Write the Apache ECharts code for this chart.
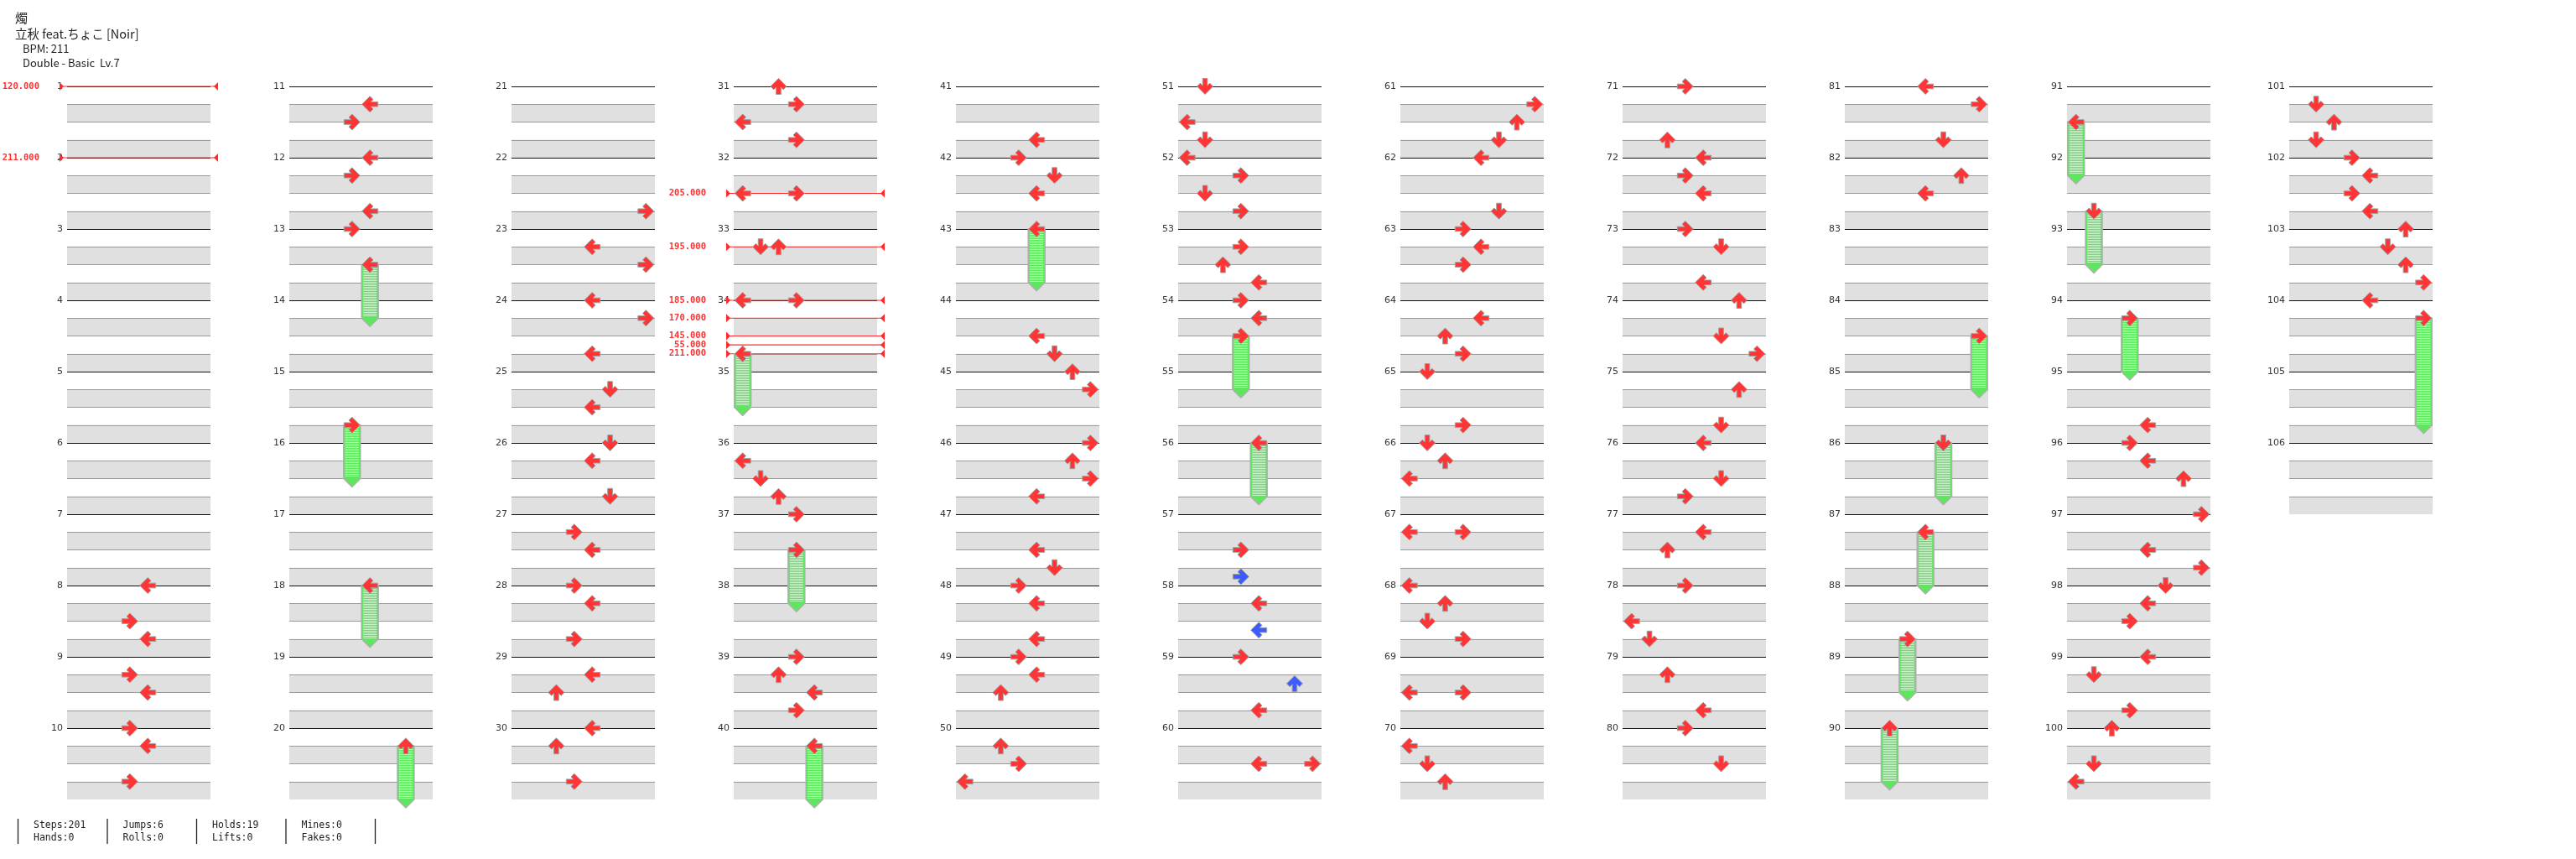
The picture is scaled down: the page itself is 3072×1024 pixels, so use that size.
<!DOCTYPE html>
<html>
<head>
<meta charset="utf-8">
<script src="https://cdn.jsdelivr.net/npm/echarts@6.0.0/dist/echarts.min.js"></script>
<style>
  html, body { margin: 0; padding: 0; background: #fff; }
  #chart { width: 3072px; height: 1024px; }
</style>
</head>
<body>
<div id="chart"></div>
<script>
// ---- data ----
// tap notes: [measure, beat in measure, lane]  lanes 0-7 = L D U R L D U R
const taps = [
  [8,0,4],[8,2,3],[8,3,4],[9,1,3],[9,2,4],[10,0,3],[10,1,4],[10,3,3],
  [11,1,4],[11,2,3],[12,0,4],[12,1,3],[12,3,4],[13,0,3],
  [22,3,7],[23,1,4],[23,2,7],[24,0,4],[24,1,7],[24,3,4],[25,1,5],[25,2,4],[26,0,5],[26,1,4],[26,3,5],
  [27,1,3],[27,2,4],[28,0,3],[28,1,4],[28,3,3],[29,1,4],[29,2,2],[30,0,4],[30,1,2],[30,3,3],
  [31,0,2],[31,1,3],[31,2,0],[31,3,3],[32,2,0],[32,2,3],[33,1,1],[33,1,2],[34,0,0],[34,0,3],
  [36,1,0],[36,2,1],[36,3,2],[37,0,3],[39,0,3],[39,1,2],[39,2,4],[39,3,3],
  [41,3,4],[42,0,3],[42,1,5],[42,2,4],[44,2,4],[44,3,5],[45,0,6],[45,1,7],[46,0,7],[46,1,6],[46,2,7],[46,3,4],
  [47,2,4],[47,3,5],[48,0,3],[48,1,4],[48,3,4],[49,0,3],[49,1,4],[49,2,2],[50,1,2],[50,2,3],[50,3,0],
  [51,0,1],[51,2,0],[51,3,1],[52,0,0],[52,1,3],[52,2,1],[52,3,3],[53,1,3],[53,2,2],[53,3,4],[54,0,3],[54,1,4],
  [57,2,3],[57,3.5,3],[58,1,4],[58,2.5,4],[59,0,3],[59,1.5,6],[59,3,4],[60,2,4],[60,2,7],
  [61,1,7],[61,2,6],[61,3,5],[62,0,4],[62,3,5],[63,0,3],[63,1,4],[63,2,3],[64,1,4],[64,2,2],[64,3,3],
  [65,0,1],[65,3,3],[66,0,1],[66,1,2],[66,2,0],[67,1,0],[67,1,3],[68,0,0],[68,1,2],[68,2,1],[68,3,3],
  [69,2,0],[69,2,3],[70,1,0],[70,2,1],[70,3,2],
  [71,0,3],[71,3,2],[72,0,4],[72,1,3],[72,2,4],[73,0,3],[73,1,5],[73,3,4],[74,0,6],[74,2,5],[74,3,7],
  [75,1,6],[75,3,5],[76,0,4],[76,2,5],[76,3,3],[77,1,4],[77,2,2],[78,0,3],[78,2,0],[78,3,1],
  [79,1,2],[79,3,4],[80,0,3],[80,2,5],
  [81,0,4],[81,1,7],[81,3,5],[82,1,6],[82,2,4],
  [95,3,4],[96,0,3],[96,1,4],[96,2,6],[97,0,7],[97,2,4],[97,3,7],[98,0,5],[98,1,4],[98,2,3],
  [99,0,4],[99,1,1],[99,3,3],[100,0,2],[100,2,1],[100,3,0],
  [101,1,1],[101,2,2],[101,3,1],[102,0,3],[102,1,4],[102,2,3],[102,3,4],
  [103,0,6],[103,1,5],[103,2,6],[103,3,7],[104,0,4]
];
// freeze arrows: [measure, beat, lane, length in beats]
const holds = [
  [13,2,4,3],[15,3,3,3],[18,0,4,3],[20,1,6,3],
  [34,3,0,3],[37,2,3,3],[40,1,4,3],[43,0,4,3],
  [54,2,3,3],[56,0,4,3],
  [84,2,7,3],[86,0,5,3],[87,1,4,3],[88,3,3,3],[90,0,2,3],
  [91,2,0,3],[92,3,1,3],[94,1,3,3],[104,1,7,6]
];
// bpm changes: [measure, beat, bpm]
const bpmChanges = [
  [1,0,120],[2,0,211],[32,2,205],[33,1,195],[34,0,185],[34,1,170],[34,2,145],[34,2.5,55],[34,3,211]
];
const measureCount = 106;
const headerLines = ['燭', '立秋 feat.ちょこ [Noir]', 'BPM: 211', 'Double - Basic  Lv.7'];
const statsTop = ['Steps:201', 'Jumps:6', 'Holds:19', 'Mines:0'];
const statsBottom = ['Hands:0', 'Rolls:0', 'Lifts:0', 'Fakes:0'];

// ---- layout ----
const perColumn = 10;
const colCount = Math.ceil(measureCount / perColumn);
const colLeft = 80, colStep = 265, colWidth = 171, colTop = 103, measureH = 85;

const colOf = m => Math.floor((m - 1) / perColumn);
const rowBeat = (m, b) => ((m - 1) % perColumn) * 4 + b;

// arrow pointing up, rotated per lane direction (L D U R)
const ARROW = [[0,-10],[10,0],[6,4],[3,1],[3,10],[-3,10],[-3,1],[-6,4],[-10,0]];
const ROT = [p => [p[1], -p[0]], p => [-p[0], -p[1]], p => p, p => [-p[1], p[0]]];

function renderTap(params, api) {
    const lane = api.value(0);
    const c = api.coord([lane + 0.5, api.value(1)]);
    const offBeat = api.value(2) > 0;
    const pts = ARROW.map(p => {
        const r = ROT[lane % 4](p);
        return [c[0] + r[0] * 0.95, c[1] + r[1] * 0.95];
    });
    return {
        type: 'polygon',
        shape: { points: pts },
        style: { fill: offBeat ? '#3d5cff' : '#ff3535', stroke: '#a0a0a0', lineWidth: 1 }
    };
}

function renderHold(params, api) {
    const lane = api.value(0);
    const p0 = api.coord([lane + 0.5, api.value(1)]);
    const p1 = api.coord([lane + 0.5, api.value(1) + api.value(2)]);
    const cx = p0[0], h = 10;
    const children = [{
        type: 'polygon',
        shape: { points: [[cx - h, p0[1]], [cx + h, p0[1]], [cx + h, p1[1]], [cx, p1[1] + 10], [cx - h, p1[1]]] },
        style: { fill: '#5ee65e', stroke: '#b0b0b0', lineWidth: 1.5 }
    }];
    // light stripes across the freeze body
    for (let y = Math.round(p0[1]) + 2.5; y < p1[1] - 1; y += 2) {
        children.push({
            type: 'line',
            shape: { x1: cx - h + 2, y1: y, x2: cx + h - 2, y2: y },
            style: { stroke: '#c2f9c2', lineWidth: 1 }
        });
    }
    return { type: 'group', children: children };
}

function renderBpm(params, api) {
    const a = api.coord([0, api.value(1)]);
    const b = api.coord([8, api.value(1)]);
    const y = a[1];
    return {
        type: 'group',
        children: [
            { type: 'line', shape: { x1: a[0] - 9, y1: y, x2: b[0] + 9, y2: y }, style: { stroke: '#ff2a2a', lineWidth: 1.2 } },
            { type: 'polygon', shape: { points: [[a[0] - 9, y - 5], [a[0] - 9, y + 5], [a[0] - 4, y]] }, style: { fill: '#ff2a2a' } },
            { type: 'polygon', shape: { points: [[b[0] + 9, y - 5], [b[0] + 9, y + 5], [b[0] + 4, y]] }, style: { fill: '#ff2a2a' } },
            {
                type: 'text', x: a[0] - 33, y: y,
                style: {
                    text: api.value(2).toFixed(3), fill: '#ff3030',
                    fontSize: 10.5, fontWeight: 'bold', fontFamily: 'DejaVu Sans Mono',
                    align: 'right', verticalAlign: 'middle'
                }
            }
        ]
    };
}

var myChart = echarts.init(document.getElementById('chart'));

const grids = [], xAxes = [], yAxes = [], series = [];
for (let i = 0; i < colCount; i++) {
    const rows = Math.min(perColumn, measureCount - i * perColumn);
    const max = rows * 4;
    grids.push({ left: colLeft + colStep * i, top: colTop, width: colWidth, height: rows * measureH });
    xAxes.push({ gridIndex: i, type: 'value', min: 0, max: 8, show: false });
    yAxes.push({
        gridIndex: i, type: 'value', inverse: true, min: 0, max: max, interval: 1,
        axisLine: { show: false },
        axisTick: { show: false },
        axisLabel: {
            margin: 5, fontSize: 11, color: '#333', fontFamily: 'DejaVu Sans',
            padding: [0, 0, 6, 0],
            formatter: v => (v % 4 === 0 && v < max) ? String(i * perColumn + v / 4 + 1) : ''
        },
        splitLine: {
            show: true, showMaxLine: false,
            lineStyle: { color: ['#111', '#9a9a9a', '#9a9a9a', '#9a9a9a'], width: 1.2 }
        },
        splitArea: { show: true, areaStyle: { color: ['rgba(0,0,0,0)', '#e0e0e0'] } }
    });

    const inCol = r => colOf(r[0]) === i;
    series.push({
        type: 'custom', xAxisIndex: i, yAxisIndex: i, clip: false, silent: true,
        renderItem: renderBpm,
        data: bpmChanges.filter(inCol).map(r => [0, rowBeat(r[0], r[1]), r[2]])
    });
    series.push({
        type: 'custom', xAxisIndex: i, yAxisIndex: i, clip: false, silent: true,
        renderItem: renderHold,
        data: holds.filter(inCol).map(r => [r[2], rowBeat(r[0], r[1]), r[3]])
    });
    series.push({
        type: 'custom', xAxisIndex: i, yAxisIndex: i, clip: false, silent: true,
        renderItem: renderTap,
        data: taps.concat(holds).filter(inCol).map(r => [r[2], rowBeat(r[0], r[1]), r[1] % 1])
    });
}

// header and footer text
const graphic = [];
const headerPos = [[18, 21, 15], [18, 40, 14.5], [27, 58, 13], [27, 75, 13]];
headerLines.forEach((t, k) => {
    graphic.push({
        type: 'text', x: headerPos[k][0], y: headerPos[k][1],
        style: { text: t, fontSize: headerPos[k][2], fontFamily: 'Noto Sans CJK JP', fill: '#222', verticalAlign: 'middle' }
    });
});
for (let k = 0; k <= statsTop.length; k++) {
    const x = 21.5 + k * 106.5;
    graphic.push({ type: 'line', shape: { x1: x, y1: 976, x2: x, y2: 1006 }, style: { stroke: '#222', lineWidth: 1.3 } });
    if (k < statsTop.length) {
        [[statsTop[k], 984], [statsBottom[k], 999]].forEach(s => {
            graphic.push({
                type: 'text', x: x + 18.5, y: s[1],
                style: { text: s[0], fontSize: 11.5, fontFamily: 'DejaVu Sans Mono', fill: '#222', verticalAlign: 'middle' }
            });
        });
    }
}

let option = {
    backgroundColor: '#fff',
    animation: false,
    grid: grids,
    xAxis: xAxes,
    yAxis: yAxes,
    series: series,
    graphic: graphic
};
myChart.setOption(option);

window.addEventListener('resize', function() {
    myChart.resize();
});
</script>
</body>
</html>
